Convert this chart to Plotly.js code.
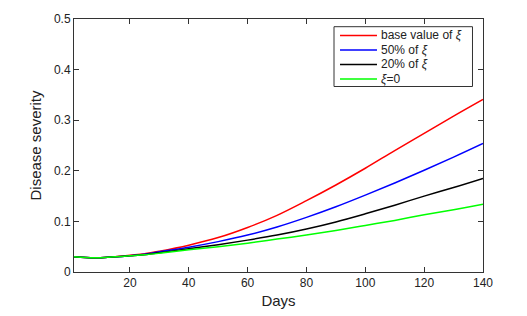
<!DOCTYPE html>
<html>
<head>
<meta charset="utf-8">
<script src="https://cdn.plot.ly/plotly-3.0.1.min.js"></script>
<style>html,body{margin:0;padding:0;background:#fff;}#chart{width:527px;height:316px;}</style>
</head>
<body>
<div id="chart"></div>
<script>
var days = [1, 5, 10, 15, 20, 25, 30, 40, 50, 60, 70, 80, 90, 100, 110, 120, 130, 140];
var baseValue = [0.030, 0.0285, 0.0283, 0.030, 0.033, 0.036, 0.041, 0.053, 0.068, 0.088, 0.112, 0.141, 0.172, 0.205, 0.240, 0.274, 0.308, 0.341];
var pct50 = [0.030, 0.0285, 0.0283, 0.030, 0.032, 0.035, 0.040, 0.049, 0.060, 0.073, 0.089, 0.108, 0.129, 0.152, 0.176, 0.201, 0.227, 0.254];
var pct20 = [0.030, 0.0285, 0.0283, 0.030, 0.032, 0.034, 0.038, 0.046, 0.054, 0.063, 0.073, 0.085, 0.099, 0.115, 0.132, 0.150, 0.167, 0.185];
var xiZero = [0.030, 0.0285, 0.0283, 0.030, 0.032, 0.034, 0.037, 0.044, 0.050, 0.057, 0.065, 0.073, 0.082, 0.092, 0.102, 0.113, 0.123, 0.134];
var names = ["base value of <i>ξ</i>", "50% of <i>ξ</i>", "20% of <i>ξ</i>", "<i>ξ</i>=0"];
var colors = ["#ff0000", "#0000ff", "#000000", "#00ff00"];
var series = [baseValue, pct50, pct20, xiZero];
var xTicks = [20, 40, 60, 80, 100, 120, 140];
var yTicks = [0, 0.1, 0.2, 0.3, 0.4, 0.5];
var yTickText = ["0", "0.1", "0.2", "0.3", "0.4", "0.5"];

var FONT = "Liberation Sans, Arial, sans-serif";

var traces = series.map(function (s, i) {
  return {x: days, y: s, name: names[i], type: "scatter", mode: "lines",
          line: {color: colors[i], width: 1.5, shape: "spline", smoothing: 1}};
});

// Legend box drawn in paper coordinates (MATLAB-style compact legend)
var legBox = {x0: 0.6357, x1: 0.9743, y0: 0.7332, y1: 0.9696};
var legLineX = [0.6504, 0.7408];
var legRowY = [0.9348, 0.8775, 0.8202, 0.7628];
var shapes = [{type: "rect", xref: "paper", yref: "paper", x0: legBox.x0, x1: legBox.x1,
  y0: legBox.y0, y1: legBox.y1, line: {color: "#333", width: 1}, fillcolor: "#fff", layer: "above"}];
var annotations = [];
names.forEach(function (n, i) {
  shapes.push({type: "line", xref: "paper", yref: "paper", x0: legLineX[0], x1: legLineX[1],
    y0: legRowY[i], y1: legRowY[i], line: {color: colors[i], width: 1.5}, layer: "above"});
  annotations.push({xref: "paper", yref: "paper", x: legLineX[1] + 0.004, y: legRowY[i],
    xanchor: "left", yanchor: "middle", text: n, showarrow: false,
    font: {family: FONT, size: 12, color: "#222"}});
});

var axisCommon = {showgrid: false, zeroline: false, showline: true, linecolor: "#333",
  linewidth: 1, mirror: "ticks", ticks: "inside", ticklen: 5, tickcolor: "#333",
  tickfont: {family: FONT, size: 12, color: "#222"}};

var layout = {
  width: 527, height: 316,
  margin: {l: 74, r: 44, t: 19, b: 44},
  paper_bgcolor: "#fff", plot_bgcolor: "#fff",
  xaxis: Object.assign({}, axisCommon, {range: [1, 140], tickvals: xTicks,
    title: {text: "Days", font: {family: FONT, size: 15, color: "#222"}, standoff: 6}}),
  yaxis: Object.assign({}, axisCommon, {range: [0, 0.5], tickvals: yTicks, ticktext: yTickText,
    title: {text: "Disease severity", font: {family: "Liberation Sans Narrow, Arial Narrow, sans-serif", size: 15, color: "#222"}, standoff: 8}}),
  shapes: shapes,
  annotations: annotations,
  showlegend: false
};

Plotly.newPlot("chart", traces, layout, {displayModeBar: false, staticPlot: true});
</script>
</body>
</html>
